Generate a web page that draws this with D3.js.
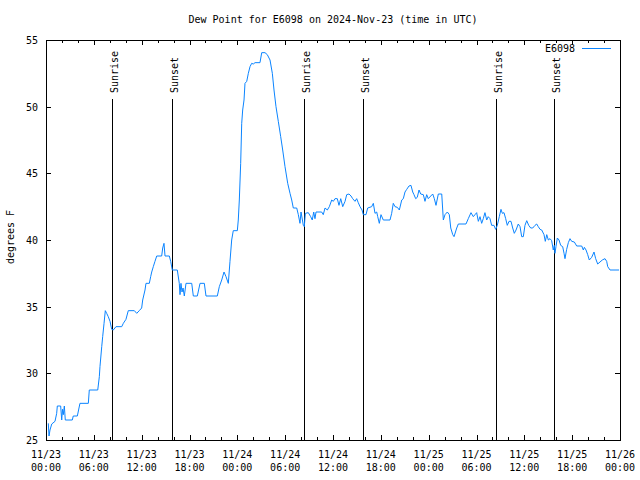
<!DOCTYPE html>
<html>
<head>
<meta charset="utf-8">
<script src="https://cdn.jsdelivr.net/npm/d3@7"></script>
<style>
  html, body { margin: 0; padding: 0; background: #ffffff; }
  svg { display: block; }
  text { font-family: "DejaVu Sans Mono", "Liberation Mono", monospace; font-size: 10px; fill: #000; }
</style>
</head>
<body>
<svg id="chart" width="640" height="480"></svg>
<script>
// ---- Data ----
const startTime = "2024-11-23T00:00:00Z";
const endTime = "2024-11-26T00:00:00Z";
const chartTitle = "Dew Point for E6098 on 2024-Nov-23 (time in UTC)";
const yLabel = "degrees F";
const seriesName = "E6098";
const yTicks = [25, 30, 35, 40, 45, 50, 55];

// hours since 2024-11-23 00:00 UTC
const hours = [
  0.29,0.38,0.50,0.72,1.13,1.34,1.42,1.84,1.97,2.07,2.17,2.30,2.42,3.30,3.42,3.93,4.26,5.31,5.43,6.49,
  6.69,6.77,6.99,7.11,7.28,7.44,7.61,7.81,8.03,8.24,8.44,8.78,9.50,9.70,10.03,10.32,11.08,11.38,11.70,12.00,
  12.13,12.42,12.54,12.96,13.13,13.26,13.46,13.67,13.89,14.51,14.64,14.80,14.93,15.47,15.64,15.84,16.47,16.72,16.81,16.93,
  17.06,17.19,17.35,17.56,18.28,18.48,18.98,19.32,19.86,20.07,21.49,21.74,22.04,22.33,22.58,22.87,23.08,23.29,23.49,24.00,
  24.12,24.25,24.42,24.55,24.67,24.84,24.96,25.18,25.38,25.59,25.80,26.00,26.22,26.84,27.06,27.47,27.76,28.10,28.39,28.60,
  28.85,29.14,29.44,29.69,29.98,30.32,30.61,30.82,31.02,31.45,31.65,31.86,31.99,32.28,32.40,32.53,32.90,33.20,33.40,33.58,
  33.74,33.87,34.58,34.78,35.00,35.29,35.54,35.84,36.04,36.25,36.54,36.75,36.97,37.22,37.51,37.72,38.01,38.26,38.47,38.76,
  38.97,39.17,39.39,39.64,39.80,40.14,40.35,40.85,41.06,41.27,41.48,41.61,41.81,42.02,42.31,43.15,43.36,43.56,43.78,44.07,
  44.32,44.62,44.82,45.03,45.25,45.53,45.78,46.00,46.16,46.37,46.57,46.79,47.00,47.33,47.54,47.75,47.95,48.26,48.51,48.71,
  48.92,49.21,49.64,49.84,50.05,50.34,50.59,50.77,51.02,51.18,51.52,51.72,52.68,52.97,53.31,53.60,53.81,54.02,54.23,54.44,
  54.65,54.85,55.06,55.28,55.47,55.69,55.90,56.19,56.40,56.61,56.86,57.07,57.24,57.45,57.66,57.86,58.08,58.33,58.54,58.74,
  58.96,59.24,59.46,59.67,59.87,60.08,60.30,60.55,60.80,61.05,61.34,61.55,61.75,61.97,62.18,62.47,62.63,62.81,63.01,63.22,
  63.43,63.63,63.76,63.84,63.97,64.14,64.35,64.56,64.81,64.98,65.10,65.31,65.52,65.73,65.94,66.27,66.57,67.20,67.40,67.53,
  67.74,67.95,68.15,68.45,68.74,68.95,69.20,69.49,69.78,70.12,70.33,70.46,70.75,71.88
];
const dewPoint = [
  26.25,25.3,25.75,26.2,26.4,27.0,27.55,27.55,26.5,27.3,26.9,27.55,26.5,26.5,26.8,26.8,27.75,27.75,28.75,28.75,
  29.75,30.5,32.0,32.75,33.75,34.7,34.5,34.25,33.9,33.3,33.25,33.5,33.5,33.75,34.05,34.7,34.7,34.5,34.7,34.9,
  35.5,36.25,36.75,36.75,37.25,37.6,38.0,38.4,38.8,38.8,39.4,39.75,38.8,38.8,38.4,37.75,37.75,36.75,35.9,36.75,
  36.1,36.4,35.8,36.75,36.75,35.8,35.8,36.75,36.75,35.8,35.8,36.5,37.0,37.6,37.25,36.75,38.4,40.0,40.7,40.7,
  41.5,43.0,45.75,48.75,49.75,50.5,51.75,51.9,52.5,53.0,53.25,53.2,53.3,53.3,54.05,54.05,53.9,53.5,52.5,51.25,
  50.0,48.9,47.75,46.75,45.5,44.25,43.5,43.0,42.4,42.4,41.9,41.25,42.1,41.1,41.0,42.0,42.05,41.75,41.5,42.1,
  41.6,42.1,42.1,41.9,42.4,42.25,42.5,43.0,42.9,43.1,43.1,42.6,43.1,42.5,42.9,43.4,43.45,43.3,43.1,42.9,
  43.1,42.8,42.5,42.25,41.9,41.9,42.4,42.5,42.75,42.0,42.1,41.75,41.25,41.9,41.5,41.5,42.0,42.75,42.5,42.45,
  42.25,43.0,43.1,43.6,43.8,44.05,44.1,43.6,43.4,43.1,43.2,43.75,43.45,43.4,42.9,43.4,43.1,43.3,43.45,43.1,
  42.6,43.45,43.45,41.5,41.9,42.1,41.9,40.9,40.4,40.25,40.9,41.2,41.2,41.6,42.05,41.75,41.9,42.05,41.4,41.75,
  41.25,41.6,42.05,41.5,41.75,41.6,41.1,41.1,40.8,41.1,41.75,42.3,42.0,42.05,41.6,41.1,41.4,41.4,40.9,40.5,
  40.75,41.2,41.0,40.25,40.25,41.1,41.45,41.1,40.9,40.9,41.1,41.2,41.0,40.8,40.75,40.4,39.9,40.4,40.0,40.1,
  39.95,39.25,39.6,39.0,39.5,40.15,40.0,39.6,39.5,39.0,38.6,39.3,39.8,40.1,39.9,39.85,39.55,39.55,39.25,39.45,
  39.25,38.9,38.5,38.7,39.1,38.6,38.2,38.35,38.5,38.6,38.4,38.0,37.75,37.75
];

const sunLabels = ["Sunrise", "Sunset", "Sunrise", "Sunset", "Sunrise", "Sunset"];
const sunHours = [8.28, 15.8, 32.37, 39.77, 56.46, 63.74];

// ---- Drawing ----
const svg = d3.select("#chart");
const margin = { left: 46, right: 620, top: 40, bottom: 440 };
const t0 = new Date(startTime);
const t1 = new Date(endTime);
const toDate = h => new Date(t0.getTime() + h * 3600e3);

const x = d3.scaleUtc().domain([t0, t1]).range([margin.left, margin.right]);
const y = d3.scaleLinear().domain([25, 55]).range([margin.bottom, margin.top]);

const data = hours.map((h, i) => ({ t: toDate(h), v: dewPoint[i] }));

const majorTicks = d3.utcHour.every(6).range(t0, new Date(t1.getTime() + 1));
const minorTicks = d3.utcHour.every(2).range(t0, new Date(t1.getTime() + 1));

const axes = svg.append("g").attr("stroke", "#000").attr("stroke-width", 1).attr("shape-rendering", "crispEdges");

// minor x ticks (bottom + top)
minorTicks.forEach(d => {
  const px = Math.round(x(d)) + 0.5;
  axes.append("line").attr("x1", px).attr("x2", px).attr("y1", margin.bottom).attr("y2", margin.bottom - 3);
  axes.append("line").attr("x1", px).attr("x2", px).attr("y1", margin.top).attr("y2", margin.top + 3);
});
// major x ticks
majorTicks.forEach(d => {
  const px = Math.round(x(d)) + 0.5;
  axes.append("line").attr("x1", px).attr("x2", px).attr("y1", margin.bottom).attr("y2", margin.bottom - 5);
  axes.append("line").attr("x1", px).attr("x2", px).attr("y1", margin.top).attr("y2", margin.top + 5);
});
// y ticks (left + right)
yTicks.forEach(v => {
  const py = Math.round(y(v)) + 0.5;
  axes.append("line").attr("x1", margin.left).attr("x2", margin.left + 5).attr("y1", py).attr("y2", py);
  axes.append("line").attr("x1", margin.right).attr("x2", margin.right - 5).attr("y1", py).attr("y2", py);
});

// x tick labels
const fmtDate = d3.utcFormat("%m/%d");
const fmtTime = d3.utcFormat("%H:%M");
const xl = svg.append("g");
majorTicks.forEach(d => {
  const t = xl.append("text").attr("x", x(d)).attr("text-anchor", "middle");
  t.append("tspan").attr("x", x(d)).attr("y", 458).text(fmtDate(d));
  t.append("tspan").attr("x", x(d)).attr("y", 471).text(fmtTime(d));
});
// y tick labels
yTicks.forEach(v => {
  svg.append("text").attr("x", 38).attr("y", y(v) + 4).attr("text-anchor", "end").text(v);
});

// axis title
svg.append("text")
  .attr("transform", "translate(14,237) rotate(-90)")
  .attr("text-anchor", "middle")
  .text(yLabel);

// title
svg.append("text").attr("x", 333).attr("y", 23).attr("text-anchor", "middle").text(chartTitle);

// sunrise / sunset lines
sunHours.forEach((h, i) => {
  const px = Math.round(x(toDate(h))) + 0.5;
  svg.append("line").attr("x1", px).attr("x2", px).attr("y1", 99).attr("y2", margin.bottom)
    .attr("stroke", "#000").attr("stroke-width", 1).attr("shape-rendering", "crispEdges");
  svg.append("text")
    .attr("transform", `translate(${px + 5},93) rotate(-90)`)
    .attr("text-anchor", "start")
    .text(sunLabels[i]);
});

// data line
const line = d3.line().x(d => x(d.t)).y(d => y(d.v));
svg.append("path").datum(data)
  .attr("fill", "none").attr("stroke", "#0a84ff").attr("stroke-width", 1)
  .attr("d", line);

// border
svg.append("rect")
  .attr("x", margin.left + 0.5).attr("y", margin.top + 0.5)
  .attr("width", margin.right - margin.left).attr("height", margin.bottom - margin.top)
  .attr("fill", "none").attr("stroke", "#000").attr("stroke-width", 1).attr("shape-rendering", "crispEdges");

// legend
svg.append("text").attr("x", 575).attr("y", 52).attr("text-anchor", "end").text(seriesName);
svg.append("line").attr("x1", 582).attr("x2", 611).attr("y1", 48.5).attr("y2", 48.5)
  .attr("stroke", "#0a84ff").attr("stroke-width", 1);
</script>
</body>
</html>
